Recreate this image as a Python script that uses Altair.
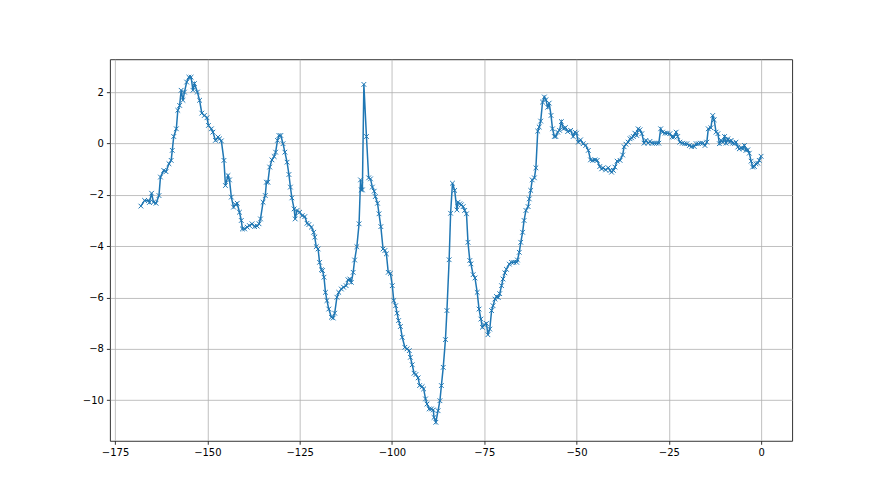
import altair as alt
import pandas as pd

xs = [
    -168, -167, -166, -165.7, -165.1, -164.6, -163.9, -163.1, -162.7, -161.8,
    -161.2, -160.4, -159.8, -159.5, -159.1, -158.4, -158.0, -157.5, -157.1, -156.6,
    -156.2, -155.6, -155.0, -154.4, -153.9, -153.5, -152.7, -152.1, -151.5, -150.8,
    -150.1, -149.7, -148.9, -148.5, -147.8, -147.1, -146.7, -146.2, -145.5, -145.1,
    -144.4, -144.0, -143.5, -142.9, -142.4, -141.9, -141.3, -140.8, -140.5, -139.9,
    -139.2, -138.6, -137.9, -137.2, -136.5, -136.0, -135.6, -134.9, -134.3, -134.0,
    -133.6, -133.1, -132.5, -131.9, -131.5, -131.0, -130.6, -130.1, -129.5, -129.0,
    -128.4, -127.9, -127.5, -127.1, -126.5, -126.2, -125.7, -125.0, -124.3, -123.6,
    -123.0, -122.5, -121.8, -121.2, -120.9, -120.5, -120.0, -119.6, -119.1, -118.8,
    -118.4, -118.0, -117.6, -117.1, -116.4, -115.9, -115.5, -114.9, -114.4, -113.7,
    -113.1, -112.4, -111.9, -111.4, -111.0, -110.5, -110.1, -109.5, -108.9, -108.5,
    -108.3, -108.0, -107.6, -106.9, -106.3, -105.8, -105.3, -104.8, -104.5, -103.9,
    -103.5, -103.0, -102.4, -101.9, -101.5, -101.0, -100.4, -99.9, -99.5, -99.0,
    -98.6, -98.2, -97.7, -97.2, -96.5, -95.9, -95.3, -95.0, -94.5, -94.0,
    -93.5, -92.9, -92.5, -91.8, -91.4, -90.9, -90.5, -89.9, -89.3, -88.8,
    -88.6, -88.1, -87.5, -87.0, -86.6, -86.1, -85.5, -85.1, -84.5, -84.1,
    -83.6, -83.0, -82.4, -82.1, -81.6, -81.2, -80.7, -80.3, -79.8, -79.4,
    -78.9, -78.6, -78.0, -77.5, -76.9, -76.4, -75.9, -75.5, -75.0, -74.4,
    -74.0, -73.5, -73.0, -72.6, -72.1, -71.7, -71.2, -70.8, -70.3, -69.9,
    -69.4, -69.0, -68.2, -67.6, -67.0, -66.2, -66.0, -65.5, -65.1, -64.6,
    -64.2, -63.7, -63.1, -62.8, -62.4, -62.0, -61.4, -61.0, -60.5, -60.1,
    -59.7, -59.2, -58.7, -58.3, -57.8, -57.4, -56.9, -56.5, -56.0, -55.6,
    -55.1, -54.6, -54.1, -53.5, -53.0, -52.4, -51.6, -50.9, -50.4, -50.0,
    -49.5, -48.9, -48.2, -47.5, -46.8, -46.2, -45.6, -45.0, -44.4, -43.7,
    -43.2, -42.8, -42.1, -41.4, -40.9, -40.5, -40.0, -39.6, -39.0, -38.2,
    -37.5, -37.1, -36.6, -36.0, -35.5, -35.1, -34.6, -34.2, -33.7, -33.3,
    -32.8, -32.3, -31.7, -31.2, -30.6, -30.1, -29.5, -28.9, -28.3, -27.7,
    -27.2, -26.7, -26.0, -25.4, -24.7, -24.1, -23.6, -23.0, -22.6, -22.0,
    -21.3, -20.7, -20.1, -19.4, -18.8, -18.1, -17.6, -17.0, -16.4, -15.8,
    -15.2, -14.7, -14.3, -13.6, -13.1, -12.7, -12.2, -11.7, -11.3, -10.8,
    -10.4, -9.9, -9.5, -9.0, -8.5, -8.1, -7.7, -7.2, -6.8, -6.3,
    -5.9, -5.4, -5.0, -4.5, -4.1, -3.6, -3.2, -2.7, -2.3, -1.8,
    -1.4, -0.9, -0.5, 0.0,
]

ys = [
    -2.44, -2.22, -2.22, -2.30, -1.94, -2.29, -2.33, -2.03, -1.31, -1.05,
    -1.10, -0.79, -0.66, -0.27, 0.27, 0.57, 1.29, 1.48, 2.07, 1.68,
    2.00, 2.39, 2.58, 2.58, 2.07, 2.33, 2.00, 1.68, 1.18, 1.09,
    1.00, 0.70, 0.57, 0.44, 0.12, 0.25, 0.18, 0.10, -0.66, -1.64,
    -1.25, -1.42, -2.09, -2.48, -2.38, -2.33, -2.68, -3.00, -3.33, -3.33,
    -3.26, -3.20, -3.13, -3.24, -3.22, -3.13, -2.94, -2.29, -2.03, -1.51,
    -1.51, -0.92, -0.64, -0.51, -0.34, 0.12, 0.31, 0.31, -0.01, -0.34,
    -0.73, -1.21, -1.70, -2.12, -2.55, -2.94, -2.61, -2.68, -2.81, -2.85,
    -3.11, -3.16, -3.26, -3.46, -3.65, -4.02, -4.11, -4.63, -4.92, -4.95,
    -5.21, -5.80, -6.12, -6.45, -6.77, -6.80, -6.61, -5.99, -5.80, -5.67,
    -5.60, -5.54, -5.31, -5.28, -5.41, -5.02, -4.54, -4.02, -3.13, -1.42,
    -1.81, -1.81, 2.30, 0.27, -1.34, -1.38, -1.70, -1.86, -2.07, -2.33,
    -2.74, -3.24, -4.11, -4.17, -4.30, -5.02, -5.06, -5.54, -6.12, -6.32,
    -6.61, -6.90, -7.13, -7.55, -7.94, -8.00, -8.07, -8.33, -8.62, -8.95,
    -9.00, -9.13, -9.43, -9.47, -9.56, -9.95, -10.15, -10.34, -10.34, -10.38,
    -10.67, -10.86, -10.41, -10.02, -9.43, -8.72, -7.64, -6.51, -4.53, -2.72,
    -1.55, -1.83, -2.59, -2.29, -2.35, -2.39, -2.46, -2.61, -2.74, -3.85,
    -4.56, -4.69, -5.11, -5.24, -5.80, -6.45, -6.84, -7.16, -7.06, -7.01,
    -7.45, -7.23, -6.51, -6.32, -6.06, -5.96, -6.00, -5.85, -5.54, -5.28,
    -5.04, -4.90, -4.70, -4.63, -4.63, -4.63, -4.54, -4.24, -3.85, -3.46,
    -3.00, -2.61, -2.46, -2.16, -1.83, -1.42, -1.34, -0.95, 0.48, 0.64,
    0.87, 1.61, 1.81, 1.70, 1.41, 1.57, 1.09, 0.57, 0.27, 0.27,
    0.44, 0.51, 0.85, 0.57, 0.62, 0.46, 0.51, 0.27, 0.44, 0.40,
    0.05, 0.14, -0.01, -0.08, -0.27, -0.64, -0.66, -0.64, -0.66, -0.90,
    -0.99, -0.95, -1.03, -0.95, -1.05, -1.12, -1.05, -0.92, -0.69, -0.66,
    -0.45, -0.13, -0.03, 0.05, 0.18, 0.22, 0.27, 0.40, 0.31, 0.57,
    0.53, 0.38, 0.01, 0.12, 0.01, 0.08, 0.01, 0.01, 0.01, 0.01,
    0.57, 0.44, 0.40, 0.40, 0.38, 0.25, 0.25, 0.44, 0.27, 0.05,
    0.01, -0.01, -0.01, -0.08, -0.12, -0.12, -0.01, -0.01, 0.01, 0.01,
    -0.08, 0.05, 0.57, 0.61, 1.09, 0.92, 0.44, 0.38, -0.01, 0.12,
    0.05, 0.27, 0.01, 0.18, 0.05, 0.12, 0.01, -0.01, 0.05, -0.14,
    -0.21, -0.17, -0.21, -0.08, -0.27, -0.25, -0.38, -0.69, -0.92, -0.90,
    -0.79, -0.77, -0.66, -0.50,
]

x_ticks = [-175, -150, -125, -100, -75, -50, -25, 0]
y_ticks = [-10, -8, -6, -4, -2, 0, 2]

df = pd.DataFrame({"x": xs, "y": ys})

xenc = alt.X("x:Q", scale=alt.Scale(domain=[-176.4, 8.4], nice=False, zero=False),
             axis=alt.Axis(values=x_ticks, title=None, format="d"))
yenc = alt.Y("y:Q", scale=alt.Scale(domain=[-11.58, 3.28], nice=False, zero=False),
             axis=alt.Axis(values=y_ticks, title=None, format="d"))

line = alt.Chart(df).mark_line(color="#1f77b4", strokeWidth=1.5).encode(x=xenc, y=yenc)
pts = alt.Chart(df).mark_point(
    shape="M-1,-1L1,1M-1,1L1,-1", filled=False, color="#1f77b4",
    size=22, strokeWidth=1, opacity=1
).encode(x=xenc, y=yenc)

chart = alt.layer(line, pts).properties(
    width=683, height=382,
    autosize=alt.AutoSizeParams(type="none"),
    padding={"left": 102, "top": 51, "right": 80, "bottom": 40},
).configure_view(
    stroke="#333333", strokeWidth=1
).configure_axis(
    domain=False, grid=True, gridColor="#b0b0b0", gridWidth=0.8,
    tickColor="#000000", tickSize=3.5, tickWidth=0.8,
    labelFont="DejaVu Sans", labelFontSize=10, labelColor="#000000",
    labelPadding=3
)

chart.save("out.html", embed_options={"renderer": "svg", "actions": False})
